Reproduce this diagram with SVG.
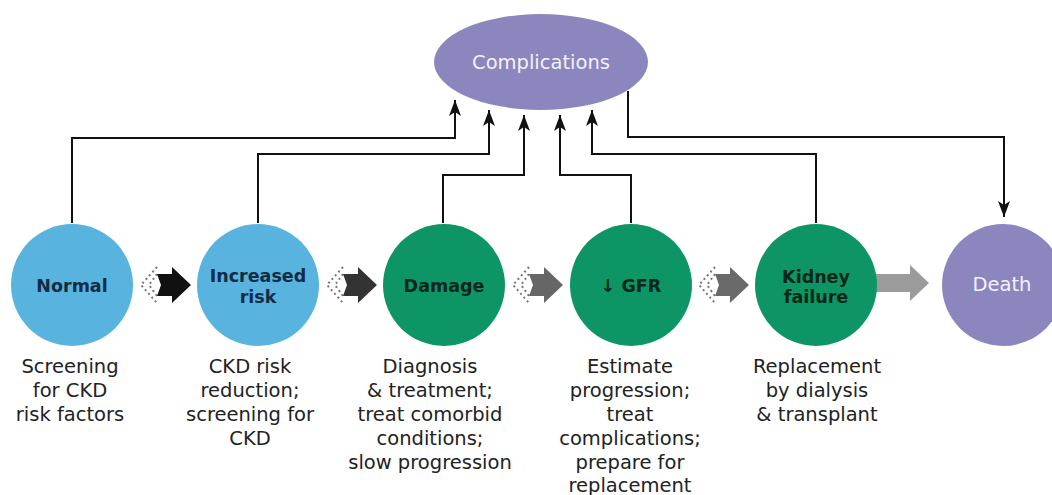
<svg xmlns="http://www.w3.org/2000/svg" width="1052" height="495" viewBox="0 0 1052 495">
<style>
.blue{fill:#58b3de}
.green{fill:#0e9565}
.purple{fill:#8b86be}
.ctext{font-family:"DejaVu Sans",Verdana,sans-serif;font-size:17.5px;font-weight:bold;text-anchor:middle}
.ptext{font-family:"DejaVu Sans",Verdana,sans-serif;font-size:19.5px;fill:#f4f2fa;text-anchor:middle}
.label{font-family:"DejaVu Sans",Verdana,sans-serif;font-size:19.5px;fill:#222;text-anchor:middle}
.conn{fill:none;stroke:#111;stroke-width:2;marker-end:url(#ah)}
.dots{fill:none;stroke:#777;stroke-width:2;stroke-dasharray:2 3}
</style>
<defs>
<marker id="ah" markerUnits="userSpaceOnUse" markerWidth="16" markerHeight="12" refX="16" refY="6" orient="auto">
<path d="M0,0 L16,6 L0,12 L4,6 Z" fill="#111"/>
</marker>
<g id="barrow">
<polyline class="dots" points="17,-18 1,0 17,18"/>
<polyline class="dots" points="17,-11 9,0 17,11"/>
<path d="M17,-11 L32,-11 L32,-18 L51,0 L32,18 L32,11 L17,11 L21,0 Z"/>
</g>
</defs>

<g id="connectors">
<path class="conn" d="M72,223 V138 H455 V100"/>
<path class="conn" d="M258,223 V154 H489 V110"/>
<path class="conn" d="M443,223 V175 H524 V115"/>
<path class="conn" d="M631,223 V175 H560 V115"/>
<path class="conn" d="M816,223 V154 H592 V110"/>
<path class="conn" d="M628,91 V137 H1004 V217"/>
<use href="#barrow" x="140" y="285" fill="#111"/>
<use href="#barrow" x="326" y="285" fill="#333"/>
<use href="#barrow" x="512" y="285" fill="#666"/>
<use href="#barrow" x="698" y="285" fill="#6a6a6a"/>
<path d="M876,274 L910,274 L910,265 L929,283 L910,301 L910,292 L876,292 Z" fill="#9b9b9b"/>
</g>

<g id="complications">
<ellipse class="purple" cx="541" cy="62" rx="107" ry="48"/>
<text class="ptext" x="541" y="69">Complications</text>
</g>

<g id="normal">
<circle class="blue" cx="72" cy="285" r="61"/>
<text class="ctext" x="72" y="292" fill="#132b45">Normal</text>
</g>

<g id="increased-risk">
<circle class="blue" cx="258" cy="285" r="61"/>
<text class="ctext" x="258" y="282" fill="#132b45">Increased</text>
<text class="ctext" x="258" y="303" fill="#132b45">risk</text>
</g>

<g id="damage">
<circle class="green" cx="444" cy="285" r="61"/>
<text class="ctext" x="444" y="292" fill="#06261a">Damage</text>
</g>

<g id="gfr">
<circle class="green" cx="631" cy="285" r="61"/>
<text class="ctext" x="631" y="292" fill="#06261a">↓ GFR</text>
</g>

<g id="kidney-failure">
<circle class="green" cx="816" cy="285" r="61"/>
<text class="ctext" x="816" y="283" fill="#06261a">Kidney</text>
<text class="ctext" x="816" y="303" fill="#06261a">failure</text>
</g>

<g id="death">
<circle class="purple" cx="1003" cy="285" r="61"/>
<text class="ptext" x="1002" y="291">Death</text>
</g>

<g id="labels">
<text class="label" x="70" y="373">Screening</text>
<text class="label" x="70" y="397">for CKD</text>
<text class="label" x="70" y="421">risk factors</text>

<text class="label" x="250" y="373">CKD risk</text>
<text class="label" x="250" y="397">reduction;</text>
<text class="label" x="250" y="421">screening for</text>
<text class="label" x="250" y="445">CKD</text>

<text class="label" x="430" y="373">Diagnosis</text>
<text class="label" x="430" y="397">&amp; treatment;</text>
<text class="label" x="430" y="421">treat comorbid</text>
<text class="label" x="430" y="445">conditions;</text>
<text class="label" x="430" y="469">slow progression</text>

<text class="label" x="630" y="373">Estimate</text>
<text class="label" x="630" y="397">progression;</text>
<text class="label" x="630" y="421">treat</text>
<text class="label" x="630" y="445">complications;</text>
<text class="label" x="630" y="469">prepare for</text>
<text class="label" x="630" y="492">replacement</text>

<text class="label" x="817" y="373">Replacement</text>
<text class="label" x="817" y="397">by dialysis</text>
<text class="label" x="817" y="421">&amp; transplant</text>
</g>
</svg>
